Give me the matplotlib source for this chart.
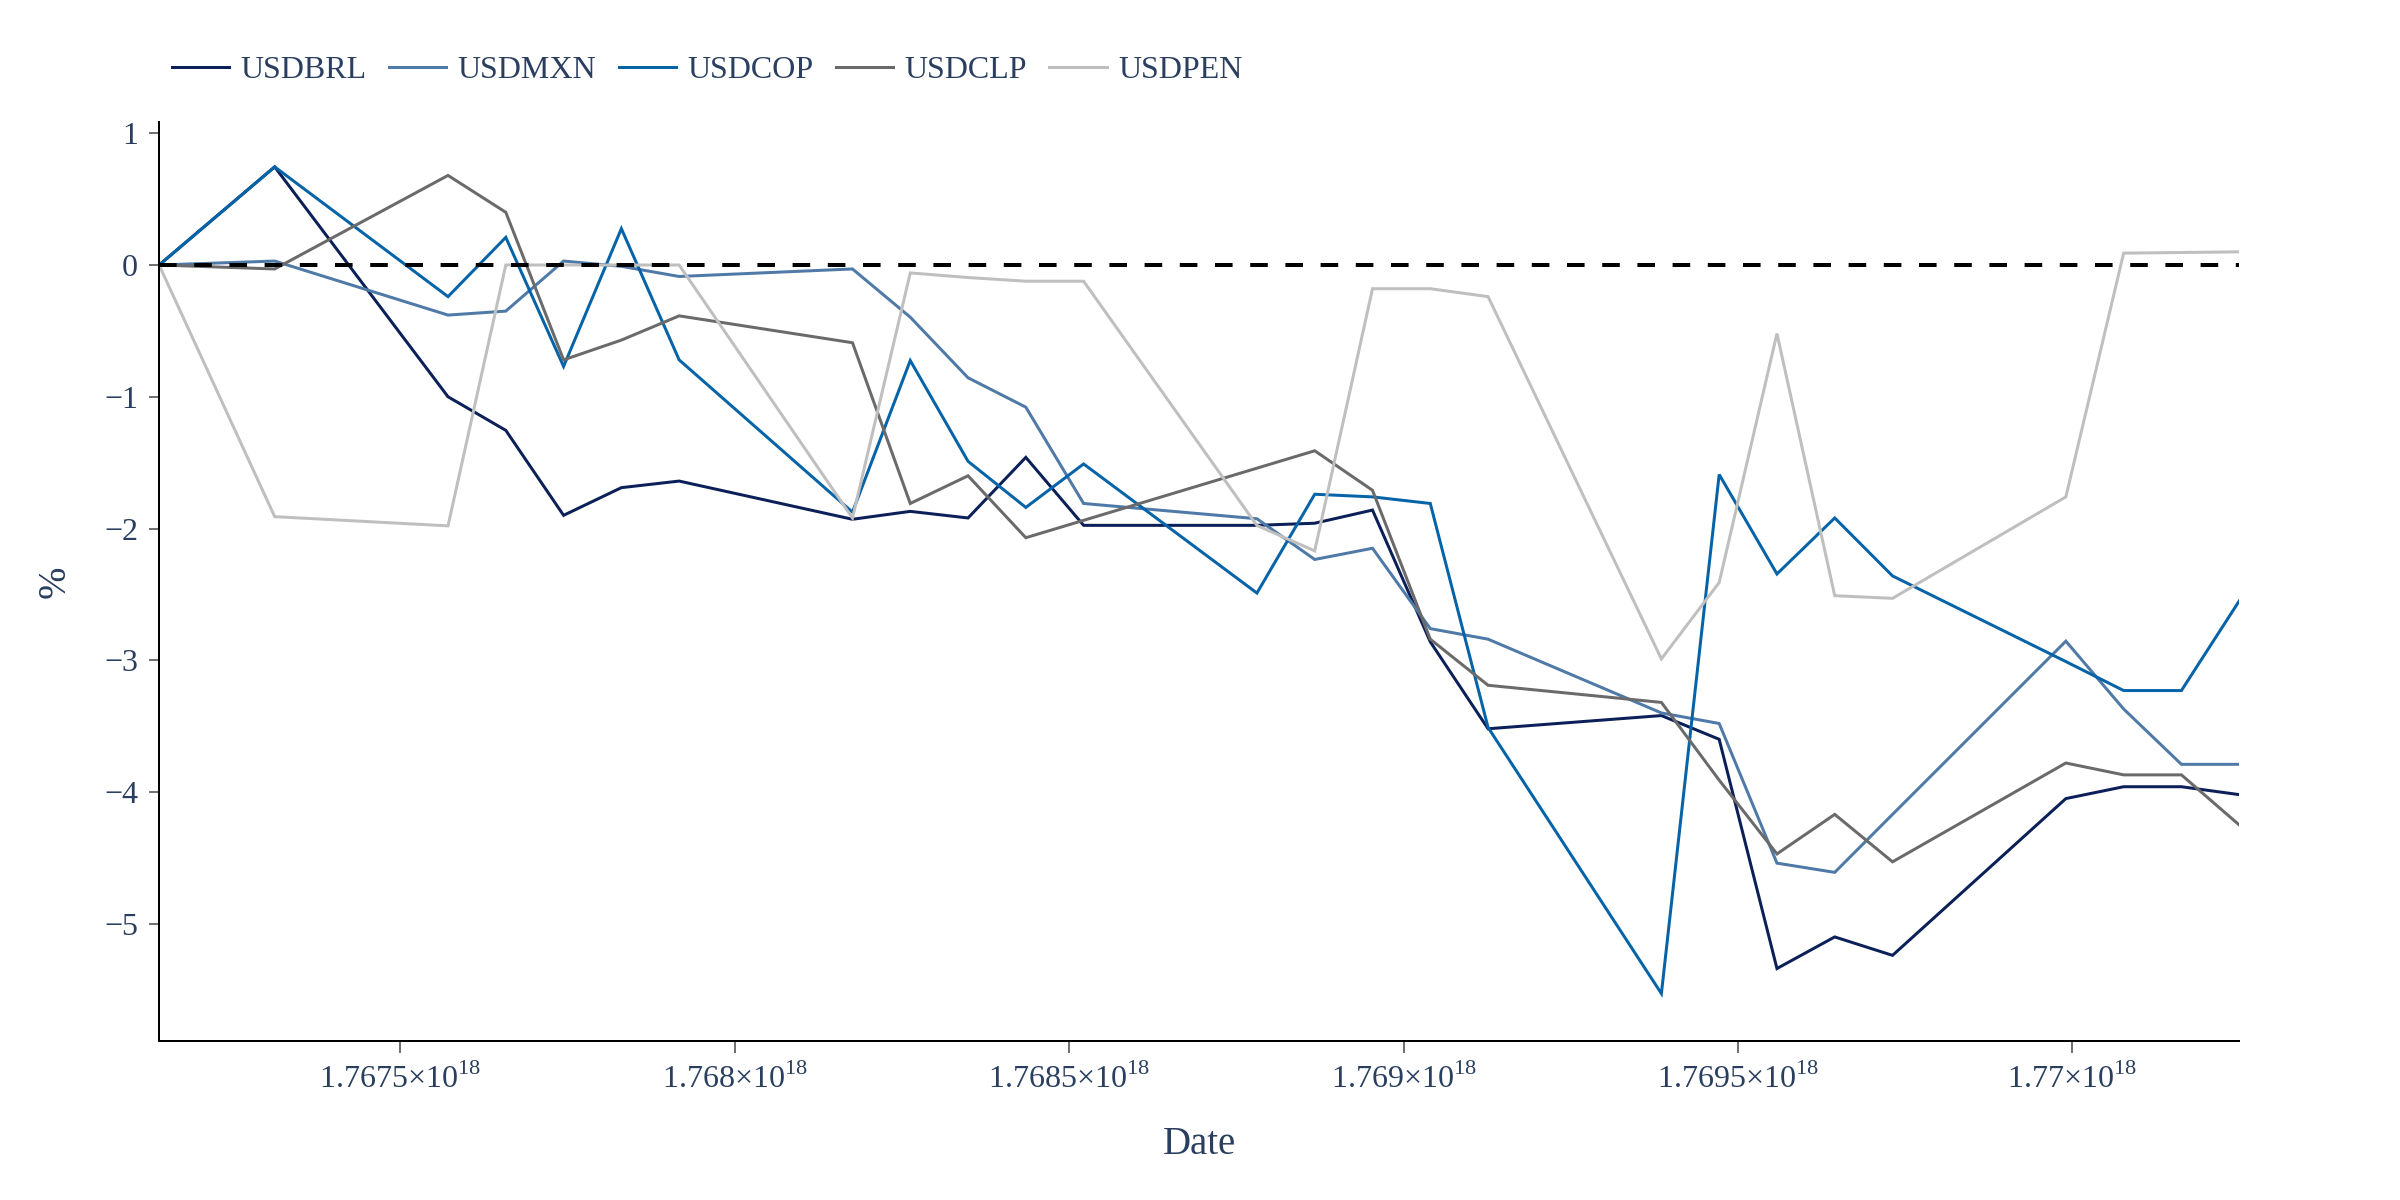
import numpy as np
import pandas as pd
import matplotlib
matplotlib.use("Agg")
import matplotlib.pyplot as plt

dates = ["2025-12-31", "2026-01-02", "2026-01-05", "2026-01-06", "2026-01-07", "2026-01-08",
         "2026-01-09", "2026-01-12", "2026-01-13", "2026-01-14", "2026-01-15", "2026-01-16",
         "2026-01-19", "2026-01-20", "2026-01-21", "2026-01-22", "2026-01-23", "2026-01-26",
         "2026-01-27", "2026-01-28", "2026-01-29", "2026-01-30", "2026-02-02", "2026-02-03",
         "2026-02-04", "2026-02-05"]

nan = np.nan
usdbrl = [0.0, 0.745, -1.0, -1.255, -1.90, -1.69, -1.64, -1.93, -1.87, -1.92, -1.46, -1.976,
          -1.976, -1.96, -1.86, -2.86, -3.52, -3.42, -3.60, -5.34, -5.10, -5.24, -4.05, -3.96,
          -3.96, -4.02]
usdmxn = [0.0, 0.03, -0.38, -0.35, 0.03, -0.01, -0.087, -0.03, -0.396, -0.856, -1.079, -1.81,
          -1.926, -2.235, -2.15, -2.76, -2.84, -3.40, -3.48, -4.54, -4.61, -4.17, -2.855, -3.37,
          -3.79, -3.79]
usdcop = [0.0, 0.745, -0.24, 0.21, -0.77, 0.276, -0.72, -1.876, -0.725, -1.49, -1.84, -1.51,
          -2.49, -1.74, -1.76, -1.81, -3.51, -5.53, -1.59, -2.345, -1.92, -2.36, -3.01, -3.23,
          -3.23, -2.55]
usdclp = [0.0, -0.03, 0.68, 0.40, -0.72, -0.57, -0.386, -0.59, -1.81, -1.60, -2.07, nan,
          nan, -1.41, -1.71, -2.84, -3.19, -3.32, -3.91, -4.47, -4.17, -4.53, -3.78, -3.87,
          -3.87, -4.25]
usdpen = [0.0, -1.91, -1.98, 0.0, 0.0, 0.0, 0.0, -1.92, -0.06, -0.095, -0.123, -0.123,
          -1.977, -2.17, -0.18, -0.18, -0.24, -2.99, -2.41, -0.52, -2.51, -2.53, -1.76, 0.09,
          0.095, 0.10]

series_names = ["USDBRL", "USDMXN", "USDCOP", "USDCLP", "USDPEN"]
series_values = [usdbrl, usdmxn, usdcop, usdclp, usdpen]
colors = ["#0b1f58", "#4f79a7", "#0563a8", "#6a6a6a", "#bfbfbf"]

xticks = [1.7675e18, 1.768e18, 1.7685e18, 1.769e18, 1.7695e18, 1.770e18]
xtick_labels = ["1.7675", "1.768", "1.7685", "1.769", "1.7695", "1.77"]
yticks = [1, 0, -1, -2, -3, -4, -5]

plt.rcParams['font.family'] = ['Liberation Serif', 'DejaVu Serif']
text_color = "#2a3f5f"

x_ns = pd.to_datetime(dates).asi8.astype(float)

fig = plt.figure(figsize=(12, 6), dpi=200)
ax = fig.add_axes([0.0663, 0.1325, 0.9330 - 0.0663, 0.8985 - 0.1325])

px = 72 / 200.0
for name, vals, c in zip(series_names, series_values, colors):
    v = np.array(vals, dtype=float)
    m = ~np.isnan(v)
    ax.plot(x_ns[m], v[m], color=c, lw=3 * px, label=name, solid_joinstyle='miter', zorder=2)

ax.plot([x_ns[0], x_ns[-1]], [0, 0], color="black", lw=4 * px, dashes=(4.4, 4.4), zorder=5)

ax.set_xlim(x_ns[0], x_ns[-1])
ax.set_ylim(-5.89, 1.087)

ax.set_xticks(xticks)
ax.set_xticklabels([s + "×10$^{\\mathregular{18}}$" for s in xtick_labels])
ax.set_yticks(yticks)
ax.set_yticklabels([("\u2212" + str(-t)) if t < 0 else str(t) for t in yticks])

for s in ["top", "right"]:
    ax.spines[s].set_visible(False)
for s in ["left", "bottom"]:
    ax.spines[s].set_linewidth(2 * px)
    ax.spines[s].set_color("black")

ax.tick_params(axis='both', direction='out', width=1.5 * px, color="#444444",
               labelcolor=text_color, labelsize=11.5)
ax.tick_params(axis='y', length=10 * px, pad=4)
ax.tick_params(axis='x', length=12 * px, pad=4)

ax.set_xlabel("Date", fontsize=14, color=text_color, labelpad=11)
ax.set_ylabel("%", fontsize=14, color=text_color, labelpad=11)

leg = fig.legend(loc="center left", bbox_to_anchor=(0.0595, 0.941), ncol=5, frameon=False,
                 fontsize=11.5, handlelength=1.8, handletextpad=0.35, columnspacing=0.7,
                 labelcolor=text_color)
for h in leg.get_lines():
    h.set_linewidth(3 * px)

fig.savefig("out.png", dpi=200, facecolor="white")
